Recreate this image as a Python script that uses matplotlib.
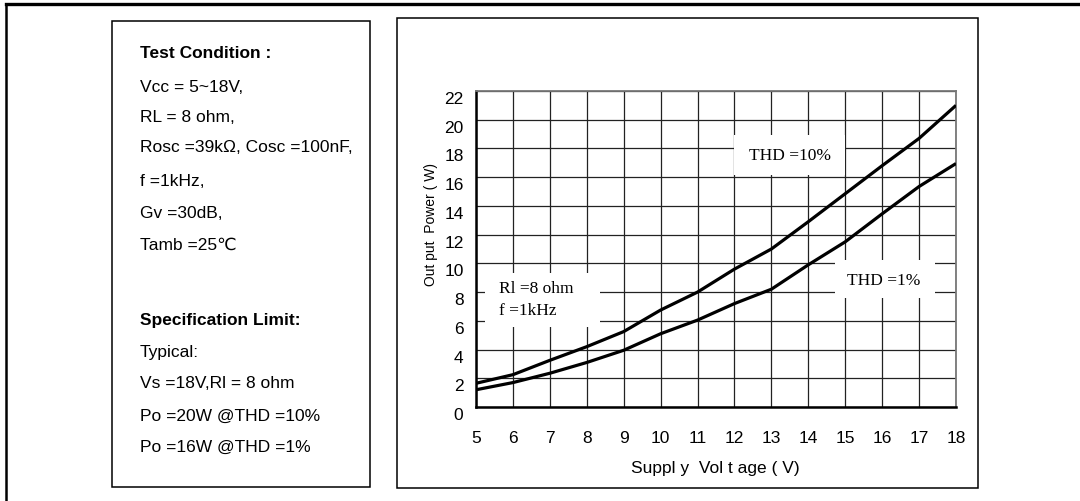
import matplotlib
matplotlib.use("Agg")
import matplotlib.pyplot as plt
from matplotlib.patches import Rectangle
from matplotlib.lines import Line2D
from matplotlib.transforms import ScaledTranslation

plt.rcParams['font.family'] = ['Liberation Sans', 'DejaVu Sans']

# data
volts = [5, 6, 7, 8, 9, 10, 11, 12, 13, 14, 15, 16, 17, 18]
thd10 = [1.65, 2.25, 3.25, 4.2, 5.25, 6.75, 8.0, 9.6, 11.0, 12.9, 14.85, 16.8, 18.7, 21.0]
thd1 = [1.2, 1.7, 2.35, 3.1, 3.95, 5.1, 6.05, 7.2, 8.2, 9.9, 11.5, 13.45, 15.35, 16.95]

xticks = list(range(5, 19))
yticks = list(range(0, 23, 2))

cond_title = "Test Condition :"
cond_lines = ["Vcc = 5~18V,", "RL = 8 ohm,", "Rosc =39k\u03a9, Cosc =100nF,",
              "f =1kHz,", "Gv =30dB,", "Tamb =25\u2103"]
spec_title = "Specification Limit:"
spec_lines = ["Typical:", "Vs =18V,Rl = 8 ohm", "Po =20W @THD =10%", "Po =16W @THD =1%"]

W, H = 1080, 501
fig = plt.figure(figsize=(W / 100, H / 100), dpi=100)


def fx(px):
    return px / W


def fy(py):
    return 1 - py / H


# outer frame (top + left only)
fig.add_artist(Line2D([fx(6), 1], [fy(4), fy(4)], color='black', lw=2.4, transform=fig.transFigure))
fig.add_artist(Line2D([fx(6), fx(6)], [fy(4), 0], color='black', lw=1.8, transform=fig.transFigure))

# two boxes
for x0, y0, x1, y1 in [(112, 21, 370, 487), (397, 18, 978, 488)]:
    fig.add_artist(Rectangle((fx(x0), fy(y1)), fx(x1 - x0), (y1 - y0) / H, fill=False,
                             edgecolor='black', lw=1.1, transform=fig.transFigure))

# condition text
ys = [54, 87, 118, 148, 182, 213, 245]
fig.text(fx(140), fy(ys[0]), cond_title, fontsize=12.5, fontweight='bold', va='center')
for t, y in zip(cond_lines, ys[1:]):
    fig.text(fx(140), fy(y), t, fontsize=12.5, va='center')
ys = [320, 352, 384, 416, 447]
fig.text(fx(140), fy(ys[0]), spec_title, fontsize=12.5, fontweight='bold', va='center')
for t, y in zip(spec_lines, ys[1:]):
    fig.text(fx(140), fy(y), t, fontsize=12.5, va='center')

# chart
ax = fig.add_axes([fx(476), fy(407), fx(956 - 476), (407 - 91) / H])
ax.plot(volts, thd10, color='black', lw=2.3, zorder=4, solid_capstyle='butt')
ax.plot(volts, thd1, color='black', lw=2.3, zorder=4, solid_capstyle='butt')
ax.set_xlim(5, 18)
ax.set_ylim(0, 22)
ax.set_xticks(xticks)
ax.set_yticks(yticks)
ax.grid(True, color='#222222', lw=0.9)
ax.set_axisbelow(True)
ax.tick_params(length=0, labelsize=12.5)
ax.tick_params(axis='x', pad=17)
ax.tick_params(axis='y', pad=9)
for s in ['left', 'bottom']:
    ax.spines[s].set_linewidth(1.8)
    ax.spines[s].set_color('black')
for s in ['top', 'right']:
    ax.spines[s].set_linewidth(1.3)
    ax.spines[s].set_color('#777777')

off = ScaledTranslation(0, -0.07, fig.dpi_scale_trans)
for lab in ax.get_yticklabels():
    lab.set_transform(lab.get_transform() + off)

# white boxes behind annotations
for x0, x1, y0, y1 in [(12.0, 15.0, 16.15, 18.95), (14.72, 17.43, 7.6, 10.25), (5.25, 8.35, 5.6, 9.3)]:
    ax.add_patch(Rectangle((x0, y0), x1 - x0, y1 - y0, facecolor='white', edgecolor='none', zorder=2))

serif = ['Liberation Serif', 'DejaVu Serif']
ax.text(13.5, 17.5, "THD =10%", family=serif, fontsize=12.5, ha='center', va='center', zorder=3)
ax.text(16.05, 8.8, "THD =1%", family=serif, fontsize=12.5, ha='center', va='center', zorder=3)
ax.text(5.62, 8.2, "Rl =8 ohm", family=serif, fontsize=12.5, ha='left', va='center', zorder=3)
ax.text(5.62, 6.7, "f =1kHz", family=serif, fontsize=12.5, ha='left', va='center', zorder=3)

# axis labels
fig.text(fx(715), fy(468), "Suppl y  Vol t age ( V)", fontsize=12.5, ha='center', va='center')
fig.text(fx(431), fy(224), "Out put  Power ( W)", fontsize=10, rotation=90, ha='center', va='center')

fig.savefig("out.png", dpi=100)
